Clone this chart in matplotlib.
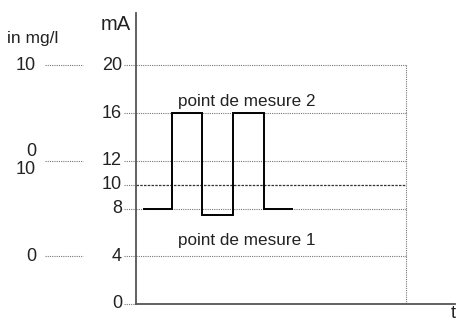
import matplotlib
matplotlib.use("Agg")
import matplotlib.pyplot as plt
import matplotlib.transforms as mtransforms

plt.rcParams['font.family'] = ['Liberation Sans', 'DejaVu Sans']

# Data
ma_ticks = [0, 4, 8, 10, 12, 16, 20]
ma_labels = ["0", "4", "8", "10", "12", "16", "20"]
grid_levels = [4, 8, 12, 16, 20]
highlight_level = 10
mg_positions = [20, 12, 12, 4]          # mA level each mg/l label belongs to
mg_labels = ["10", "0", "10", "0"]
mg_offsets = [0, 7, -6, 0]              # vertical offsets (points) for overlapping labels
mg_tick_levels = [20, 12, 4]
signal_t = [0.25, 1.2, 1.2, 2.2, 2.2, 3.23, 3.23, 4.27, 4.27, 5.2]
signal_ma = [8, 8, 16, 16, 7.5, 7.5, 16, 16, 8, 8]
t_end = 9.0

W, H = 458, 323
fig = plt.figure(figsize=(W / 100, H / 100), dpi=100)
ax = fig.add_axes([136 / W, (H - 304) / H, (455 - 136) / W, (304 - 13) / H])
ax.set_xlim(0, (455 - 136) / 30)
ax.set_ylim(0, 24.4)
for s in ['top', 'right']:
    ax.spines[s].set_visible(False)
for s in ['left', 'bottom']:
    ax.spines[s].set_color('#555555')
    ax.spines[s].set_linewidth(1.3)
ax.set_xticks([])
ax.set_yticks([])

# grid lines
for v in grid_levels:
    ax.plot([0, t_end], [v, v], linestyle=(0, (1, 1)), color='#777777', lw=0.8)
ax.plot([0, t_end], [highlight_level, highlight_level], linestyle=(0, (2, 1)), color='#333333', lw=0.9)
ax.plot([t_end, t_end], [0, 20], linestyle=(0, (1, 1)), color='#777777', lw=0.8)

# signal
ax.plot(signal_t, signal_ma, color='black', lw=1.4, solid_joinstyle='miter')

# labels mA
trans = mtransforms.blended_transform_factory(fig.transFigure, ax.transData)
for v, lab in zip(ma_ticks, ma_labels):
    ax.text(122 / W, v, lab, transform=trans, ha='right', va='center', fontsize=13, color='#222222')
    ax.plot([124 / W, 136 / W], [v, v], transform=trans, linestyle=(0, (1, 1)), color='#777777', lw=0.8, clip_on=False)

# labels mg/l
for v, lab, off in zip(mg_positions, mg_labels, mg_offsets):
    tr = mtransforms.offset_copy(trans, fig=fig, x=0, y=off, units='points')
    ax.text(36 / W, v, lab, transform=tr, ha='right', va='center', fontsize=13, color='#222222')
for v in mg_tick_levels:
    ax.plot([45 / W, 83 / W], [v, v], transform=trans, linestyle=(0, (1, 1)), color='#777777', lw=0.8, clip_on=False)

fig.text(7 / W, 1 - 39 / H, "in mg/l", ha='left', va='center', fontsize=12.5, color='#222222')
fig.text(101 / W, 1 - 24 / H, "mA", ha='left', va='center', fontsize=14.5, color='#222222')
fig.text(453 / W, 1 - 322 / H, "t", ha='center', va='bottom', fontsize=13, color='#222222')

ax.text(1.4, 17.0, "point de mesure 2", ha='left', va='center', fontsize=12.3, color='#222222')
ax.text(1.4, 5.3, "point de mesure 1", ha='left', va='center', fontsize=12.3, color='#222222')

fig.savefig("out.png", dpi=100)
